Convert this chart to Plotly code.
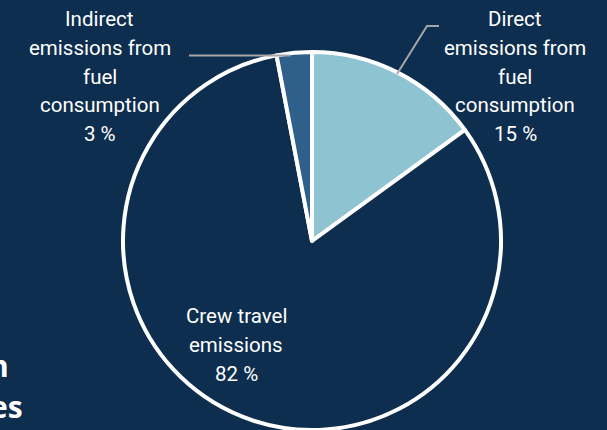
import plotly.graph_objects as go

# Emission sources and their shares (%)
labels = ["Direct emissions from fuel consumption",
          "Crew travel emissions",
          "Indirect emissions from fuel consumption"]
label_lines = [["Direct", "emissions from", "fuel", "consumption"],
               ["Crew travel", "emissions"],
               ["Indirect", "emissions from", "fuel", "consumption"]]
values = [15, 82, 3]
colors = ["#8ec3d2", "#0d2e4e", "#2f5f8b"]

W, H = 607, 430
BG = "#0d2e4e"


def px(x):
    return x / W


def py(y):
    return 1 - y / H


fig = go.Figure(go.Pie(
    labels=labels,
    values=values,
    sort=False,
    direction="clockwise",
    rotation=0,
    textinfo="none",
    hoverinfo="skip",
    marker=dict(colors=colors, line=dict(color="white", width=4)),
    domain=dict(x=[px(123), px(501)], y=[0, py(52)]),
    showlegend=False,
))

# Label blocks: centre x and first-line y (pixels), one line every ~28.8 px
label_pos = [(515, 19), (236, 316), (100, 19)]
line_step = 28.8
annotations = []
for lines, val, (cx, cy) in zip(label_lines, values, label_pos):
    rows = lines + [f"{val} %"]
    for i, row in enumerate(rows):
        annotations.append(dict(
            x=px(cx), y=py(cy + i * line_step), xref="paper", yref="paper",
            text=row, showarrow=False, xanchor="center", yanchor="middle",
            font=dict(family="Roboto", size=20.5, color="white"),
        ))

# Heading fragments at the left edge
annotations.append(dict(x=px(11), y=py(365), xref="paper", yref="paper",
                        text="<b>n</b>", showarrow=False, xanchor="right",
                        yanchor="middle",
                        font=dict(family="Open Sans", size=30, color="white")))
annotations.append(dict(x=px(25), y=py(406), xref="paper", yref="paper",
                        text="<b>es</b>", showarrow=False, xanchor="right",
                        yanchor="middle",
                        font=dict(family="Open Sans", size=30, color="white")))

leader = dict(color="#a6a6a6", width=2)
shapes = [
    dict(type="line", xref="paper", yref="paper",
         x0=px(189), y0=py(55.5), x1=px(290), y1=py(55.5), line=leader),
    dict(type="path", xref="paper", yref="paper",
         path=f"M {px(397)},{py(74)} L {px(427)},{py(26)} L {px(439)},{py(26)}",
         line=leader),
]

fig.update_layout(
    width=W, height=H,
    margin=dict(l=0, r=0, t=0, b=0),
    paper_bgcolor=BG, plot_bgcolor=BG,
    annotations=annotations,
    shapes=shapes,
)

fig.write_html("out.html")
